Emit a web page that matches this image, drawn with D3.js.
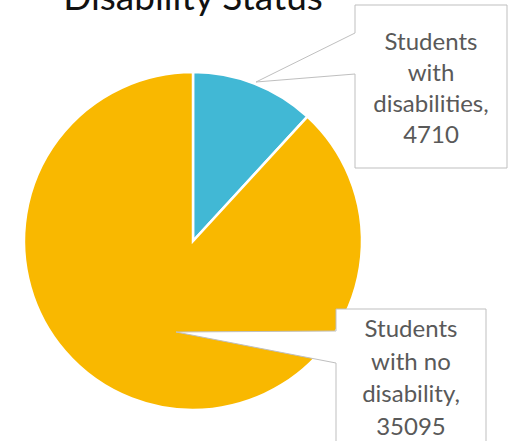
<!DOCTYPE html>
<html>
<head>
<meta charset="utf-8">
<script src="https://cdn.jsdelivr.net/npm/d3@7"></script>
<style>
  html, body { margin: 0; padding: 0; background: #fff; overflow: hidden; }
  text { font-family: Lato, "Open Sans", sans-serif; }
</style>
</head>
<body>
<svg id="chart" width="510" height="441"></svg>
<script>
// chart data
const categories = ['Students with disabilities', 'Students with no disability'];
const values = [4710, 35095];
const colors = ['#41B8D5', '#F9B800'];
// label text, one line per row
const labelLines = [
    ['Students', 'with', 'disabilities,', '4710'],
    ['Students', 'with no', 'disability,', '35095']
];
const title = 'Disability Status';

const svg = d3.select('#chart');

// pie center and size
const cx = 193, cy = 241, radius = 169;

const pie = d3.pie().sort(null).value(d => d);
const arc = d3.arc().innerRadius(0).outerRadius(radius);
const arcs = pie(values);

const g = svg.append('g').attr('transform', `translate(${cx},${cy})`);

g.selectAll('path')
    .data(arcs)
    .join('path')
    .attr('d', arc)
    .attr('fill', (d, i) => colors[i])
    .attr('stroke', '#fff')
    .attr('stroke-width', 2.5);

// title, mostly cut off by the top edge
svg.append('text')
    .attr('x', cx)
    .attr('y', 10)
    .attr('text-anchor', 'middle')
    .attr('font-size', 37)
    .attr('fill', '#111')
    .text(title);

// callout boxes: box rect, pointer base on left edge, tip point
const callouts = [
    { x0: 355, y0: 5, x1: 507, y1: 168, p0: 33, p1: 74, tip: [256, 82], firstBase: 50, step: 31 },
    { x0: 336, y0: 309, x1: 486, y1: 445, p0: 331, p1: 363, tip: [176, 332], firstBase: 337, step: 32.5 }
];

callouts.forEach((c, i) => {
    const p = d3.path();
    p.moveTo(c.x0, c.y0);
    p.lineTo(c.x1, c.y0);
    p.lineTo(c.x1, c.y1);
    p.lineTo(c.x0, c.y1);
    p.lineTo(c.x0, c.p1);
    p.lineTo(c.tip[0], c.tip[1]);
    p.lineTo(c.x0, c.p0);
    p.closePath();

    svg.append('path')
        .attr('d', p.toString())
        .attr('fill', '#fff')
        .attr('stroke', '#BFBFBF')
        .attr('stroke-width', 1);

    const t = svg.append('text')
        .attr('text-anchor', 'middle')
        .attr('font-size', 24)
        .attr('fill', '#595959');

    labelLines[i].forEach((line, j) => {
        t.append('tspan')
            .attr('x', (c.x0 + c.x1) / 2)
            .attr('y', c.firstBase + j * c.step)
            .text(line);
    });
});
</script>
</body>
</html>
